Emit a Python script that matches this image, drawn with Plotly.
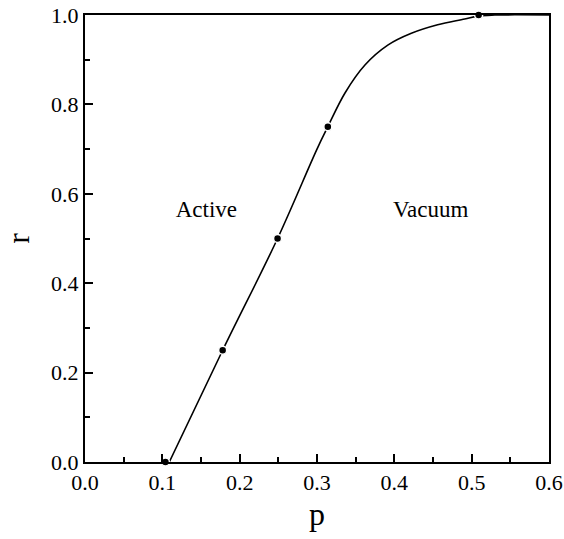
import plotly.graph_objects as go

# Data
curve_p = [0.109, 0.178, 0.249, 0.300, 0.314, 0.336, 0.362, 0.392, 0.422, 0.456, 0.491, 0.509, 0.53, 0.6]
curve_r = [0.0, 0.25, 0.5, 0.70, 0.75, 0.825, 0.888, 0.933, 0.959, 0.978, 0.991, 0.998, 1.0, 1.0]
point_p = [0.104, 0.178, 0.249, 0.314, 0.509]
point_r = [0.0, 0.25, 0.5, 0.75, 1.0]
x_ticks = [0.0, 0.1, 0.2, 0.3, 0.4, 0.5, 0.6]
y_ticks = [0.0, 0.2, 0.4, 0.6, 0.8, 1.0]
labels = ["Active", "Vacuum"]
label_p = [0.157, 0.447]
label_r = [0.562, 0.562]

FONT = "Liberation Serif, Times New Roman, serif"

fig = go.Figure()
fig.add_trace(go.Scatter(x=curve_p, y=curve_r, mode="lines",
                         line=dict(color="black", width=1.6, shape="spline", smoothing=1.0),
                         hoverinfo="skip", showlegend=False))
fig.add_trace(go.Scatter(x=point_p, y=point_r, mode="markers",
                         marker=dict(color="black", size=8, line=dict(color="white", width=1.5)),
                         showlegend=False, cliponaxis=False))
fig.add_trace(go.Scatter(x=label_p, y=label_r, mode="text", text=labels,
                         textfont=dict(family=FONT, size=23, color="black"),
                         showlegend=False))

axis_common = dict(showgrid=False, zeroline=False, showline=True, linecolor="black",
                   linewidth=2, mirror=True, ticks="inside", ticklen=8, tickwidth=1.5,
                   tickcolor="black", tickfont=dict(family=FONT, size=22, color="black"),
                   automargin=False, ticklabeloverflow="allow")

fig.update_xaxes(range=[0, 0.6], tickvals=x_ticks, ticktext=[f"{v:.1f}" for v in x_ticks],
                 minor=dict(ticks="inside", ticklen=5, tickwidth=1.5, tickcolor="black", dtick=0.05),
                 title=dict(text="p", font=dict(family=FONT, size=32, color="black"), standoff=8),
                 **axis_common)
fig.update_yaxes(range=[0, 1.0], tickvals=y_ticks, ticktext=[f"{v:.1f}" for v in y_ticks],
                 minor=dict(ticks="inside", ticklen=5, tickwidth=1.5, tickcolor="black", dtick=0.1),
                 title=dict(text="r", font=dict(family=FONT, size=32, color="black"), standoff=14),
                 **axis_common)

fig.update_layout(width=564, height=539, margin=dict(l=85, r=15, t=15, b=77),
                  plot_bgcolor="white", paper_bgcolor="white", showlegend=False)

fig.write_html("out.html")
